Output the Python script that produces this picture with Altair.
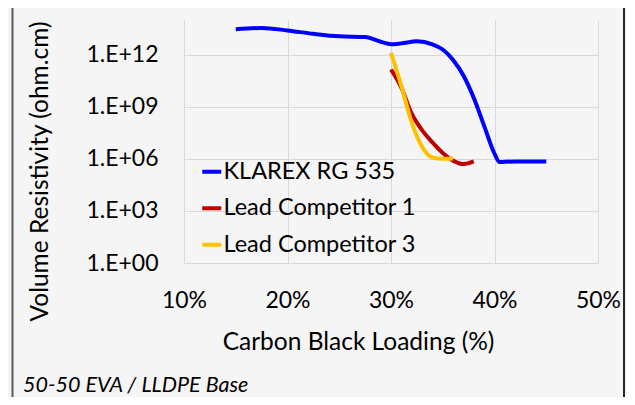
import altair as alt
import pandas as pd

# ---- data ----
series_names = ["KLAREX RG 535", "Lead Competitor 1", "Lead Competitor 3"]
series_colors = ["#0000ff", "#c00000", "#ffc000"]

klarex_loading = [0.15, 0.175, 0.20, 0.225, 0.25, 0.275, 0.29, 0.30, 0.31, 0.325,
                  0.34, 0.35, 0.36, 0.37, 0.38, 0.39, 0.40, 0.405, 0.41, 0.42, 0.45]
klarex_resist = [2.95e13, 3.47e13, 2.5e13, 1.6e13, 1.15e13, 1.05e13, 5.6e12, 4.0e12, 4.5e12, 5.9e12,
                 4.0e12, 2.0e12, 5.0e11, 6.3e10, 3.2e9, 8.0e7, 2.0e6, 6.5e5, 6.8e5, 7.0e5, 7.0e5]

comp1_loading = [0.30, 0.31, 0.32, 0.33, 0.34, 0.35, 0.36, 0.37, 0.38]
comp1_resist = [1.4e11, 1.26e10, 4.0e8, 4.5e7, 8.9e6, 2.2e6, 7.9e5, 5.0e5, 7.1e5]

comp3_loading = [0.30, 0.31, 0.32, 0.33, 0.34, 0.35, 0.36]
comp3_resist = [1.26e12, 1.6e10, 1.26e8, 5.0e6, 1.2e6, 1.0e6, 1.05e6]

x_ticks = [0.1, 0.2, 0.3, 0.4, 0.5]
y_ticks = [1, 1e3, 1e6, 1e9, 1e12]

footnote = "50-50 EVA / LLDPE Base"

rows = []
for name, xs, ys in [(series_names[0], klarex_loading, klarex_resist),
                     (series_names[1], comp1_loading, comp1_resist),
                     (series_names[2], comp3_loading, comp3_resist)]:
    for xv, yv in zip(xs, ys):
        rows.append({"series": name, "loading": xv, "resist": yv})
df = pd.DataFrame(rows)

FONT = "Lato"

lines = alt.Chart(df).mark_line(strokeWidth=4, interpolate="monotone").encode(
    x=alt.X("loading:Q",
            scale=alt.Scale(domain=[0.1, 0.5], nice=False, zero=False),
            axis=alt.Axis(values=x_ticks, format=".0%", title="Carbon Black Loading (%)",
                          grid=True, ticks=False, tickSize=0, domain=False,
                          labelFlush=False, labelOverlap=False,
                          labelPadding=37, labelBaseline="middle",
                          titleFontSize=24.5,
                          titleX=174, titleY=79, titleBaseline="middle", titleAlign="center")),
    y=alt.Y("resist:Q",
            scale=alt.Scale(type="log", domain=[1, 1e14], nice=False),
            axis=alt.Axis(values=y_ticks,
                          labelExpr="'1.E+' + (datum.value < 1e10 ? '0' : '') + format(log(datum.value)/LN10, '.0f')",
                          title="Volume Resistivity (ohm.cm)",
                          grid=True, ticks=False, tickSize=0, domain=False,
                          labelFlush=False, labelOverlap=False,
                          labelPadding=26,
                          titleFontSize=24.5,
                          titleAngle=-90, titleX=-144, titleY=151,
                          titleBaseline="middle", titleAlign="center")),
    color=alt.Color("series:N",
                    scale=alt.Scale(domain=series_names, range=series_colors),
                    legend=alt.Legend(title=None, orient="none", legendX=16, legendY=140,
                                      symbolType="stroke", symbolSize=361, symbolStrokeWidth=4,
                                      labelFontSize=23.5, labelFont=FONT, labelColor="#000000",
                                      labelOffset=0, rowPadding=11.5, padding=0,
                                      labelLimit=400)),
)

note = alt.Chart(pd.DataFrame({"t": [footnote]})).mark_text(
    align="left", baseline="middle", fontStyle="italic", fontSize=21.5, font=FONT, color="#000000"
).encode(text="t:N", x=alt.value(-161), y=alt.value(366))

frame_df = pd.DataFrame({"k": [0]})
left_border = alt.Chart(frame_df).mark_rule(color="#595959", strokeWidth=2).encode(
    x=alt.value(-171.5), y=alt.value(-20), y2=alt.value(400))
right_border = alt.Chart(frame_df).mark_rule(color="#262626", strokeWidth=2).encode(
    x=alt.value(440), y=alt.value(-20), y2=alt.value(400))

chart = alt.layer(lines, note, left_border, right_border).properties(
    width=414, height=243,
    autosize=alt.AutoSizeParams(type="none"),
    padding={"left": 176, "top": 12, "right": 29, "bottom": 134},
    background="#f5f5f5",
).configure_view(stroke=None).configure_axis(
    labelFont=FONT, titleFont=FONT, labelFontSize=23,
    labelColor="#000000", titleColor="#000000", titleFontWeight="normal",
    gridColor="#d9d9d9", gridWidth=1,
)

chart.save("out.html", embed_options={"renderer": "svg", "actions": False})
